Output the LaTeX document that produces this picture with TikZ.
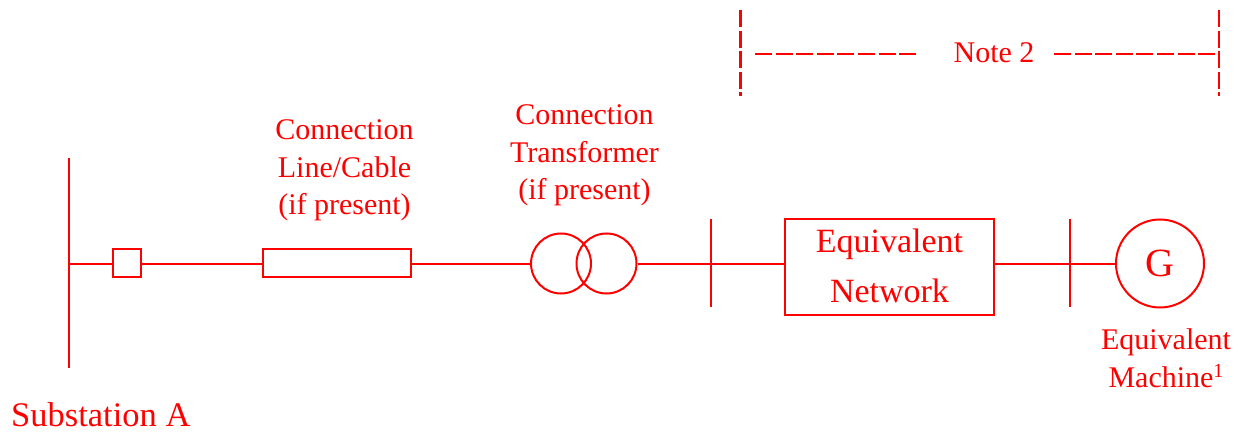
\documentclass[tikz,border=0pt]{standalone}
\usepackage{fontspec}
\setmainfont{Liberation Serif}
\definecolor{lred}{RGB}{255,0,0}
\tikzset{
  wire/.style={draw=lred,line width=2pt},
  box/.style={draw=lred,line width=2pt,inner sep=0pt,minimum width=#1},
  ring/.style={circle,draw=lred,line width=2pt,inner sep=0pt},
  dashline/.style={draw=lred,line width=2.4pt,dash pattern=on 17pt off 3.6pt},
  lab/.style={text=lred,inner sep=0pt,align=center,font=\fontsize{30}{37.5}\selectfont},
  biglab/.style={text=lred,inner sep=0pt,align=center,font=\fontsize{34}{49.5}\selectfont}
}
\begin{document}
\begin{tikzpicture}[x=1pt,y=-1pt]
\useasboundingbox (0,0) rectangle (1251,433);
% buses
\coordinate (a1) at (69,158); \coordinate (a2) at (69,368); \coordinate (am) at (69,263.5);
\coordinate (b1) at (711,219); \coordinate (b2) at (711,307); \coordinate (bm) at (711,263.5);
\coordinate (c1) at (1070,219); \coordinate (c2) at (1070,307); \coordinate (cm) at (1070,263.5);
\draw[wire] (a1) -- (a2);
\draw[wire] (b1) -- (b2);
\draw[wire] (c1) -- (c2);
% equipment
\node[box=28pt,minimum height=28pt] (brk) at (127,263) {};
\node[box=148pt,minimum height=28pt] (line) at (337,263) {};
\node[ring,minimum size=60pt] (t1) at (561,263.5) {};
\node[ring,minimum size=60pt] (t2) at (606.5,263.5) {};
\node[box=209pt,minimum height=96pt] (net) at (889.5,267) {};
\node[ring,minimum size=88pt,text=lred,font=\fontsize{40}{40}\selectfont] (gen) at (1160,263.5) {G};
% connectors
\draw[wire] (am) -- (brk.west|-am);
\draw[wire] (brk.east|-am) -- (line.west|-am);
\draw[wire] (line.east|-am) -- (t1.west);
\draw[wire] (t2.east) -- (bm);
\draw[wire] (bm) -- (net.west|-bm);
\draw[wire] (net.east|-cm) -- (cm);
\draw[wire] (cm) -- (gen.west);
% labels
\node[lab] (l1) at (344.5,170.5) {Connection\\Line/Cable\\(if present)};
\node[lab] (l2) at (584.5,155.5) {Connection\\Transformer\\(if present)};
\node[biglab] (l3) at (889.5,266) {Equivalent\\Network};
\node[lab] (l4) at (1166,358) {Equivalent\\Machine\raisebox{10pt}{\fontsize{20}{20}\selectfont 1}};
\node[text=lred,inner sep=0pt,font=\fontsize{34.5}{34.5}\selectfont,anchor=base west] (l5) at (11,426) {Substation A};
\node[lab] (note) at (994,53) {Note 2};
% note bracket
\coordinate (n1) at (740.5,10); \coordinate (n2) at (740.5,96);
\coordinate (n3) at (1219,10); \coordinate (n4) at (1219,96);
\coordinate (h1) at (755,54); \coordinate (h2) at (916,54);
\coordinate (h3) at (1054,54); \coordinate (h4) at (1217,54);
\draw[dashline] (n1) -- (n2);
\draw[dashline] (n3) -- (n4);
\draw[dashline] (h1) -- (h2);
\draw[dashline] (h3) -- (h4);
\end{tikzpicture}
\end{document}
